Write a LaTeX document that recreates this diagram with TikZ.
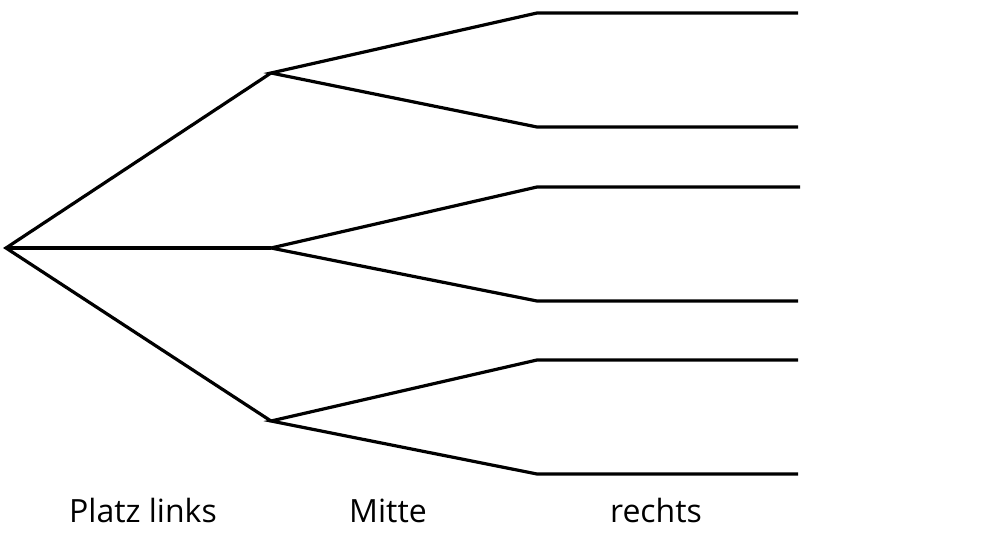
\documentclass[tikz,border=0pt]{standalone}
\usepackage{fontspec}
\setmainfont{Open Sans}
\begin{document}
\begin{tikzpicture}[x=1pt,y=-1pt,
  branch/.style={line width=3.2pt,line cap=butt,line join=miter},
  lab/.style={font=\fontsize{32}{36}\selectfont,inner sep=0pt,anchor=base}]
\useasboundingbox (0,0) rectangle (1000,534);
\coordinate (r) at (6,248);
\coordinate (a) at (271,73);
\coordinate (b) at (271,248);
\coordinate (c) at (271,421);
\coordinate (l1) at (537,13);   \coordinate (e1) at (798,13);
\coordinate (l2) at (537,127);  \coordinate (e2) at (798,127);
\coordinate (l3) at (537,187);  \coordinate (e3) at (800,187);
\coordinate (l4) at (537,301);  \coordinate (e4) at (798,301);
\coordinate (l5) at (537,360);  \coordinate (e5) at (798,360);
\coordinate (l6) at (537,474);  \coordinate (e6) at (798,474);
\draw[branch] (a) -- (r) -- (c);
\draw[branch] (r) -- (b);
\draw[branch] (e1) -- (l1) -- (a) -- (l2) -- (e2);
\draw[branch] (e3) -- (l3) -- (b) -- (l4) -- (e4);
\draw[branch] (e5) -- (l5) -- (c) -- (l6) -- (e6);
\node[lab] (t1) at (143,522) {Platz links};
\node[lab] (t2) at (388,522) {Mitte};
\node[lab] (t3) at (656,522) {rechts};
\end{tikzpicture}
\end{document}
